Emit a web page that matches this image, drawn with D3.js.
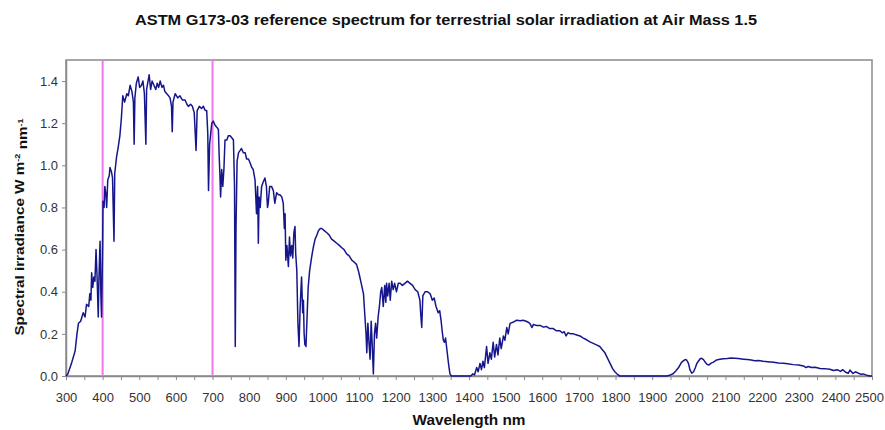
<!DOCTYPE html>
<html>
<head>
<meta charset="utf-8">
<script src="https://cdn.jsdelivr.net/npm/d3@7"></script>
<style>
  html, body { margin: 0; padding: 0; background: #fff; }
  svg { display: block; font-family: "Liberation Sans", Arial, sans-serif; }
</style>
</head>
<body>
<svg id="chart" width="885" height="430"></svg>
<script>
// ASTM G173-03 AM1.5 spectral irradiance (W m^-2 nm^-1) against wavelength (nm)
const wavelength = [
  280, 300, 305, 315, 325, 330, 334, 340, 347, 352, 356, 362, 365, 368, 370, 373, 376, 379, 382, 385,
  388, 390, 393, 395, 397, 400, 401, 404, 406, 409, 411, 414, 418, 420, 424, 427, 431, 433, 438, 442,
  447, 451, 455, 460, 466, 470, 475, 480, 484, 486, 488, 492, 497, 501, 506, 510, 514, 518, 520, 524,
  527, 531, 535, 540, 545, 549, 553, 557, 562, 566, 570, 575, 580, 584, 588, 590, 592, 598, 605, 611,
  618, 625, 630, 634, 640, 645, 650, 655, 658, 664, 670, 675, 680, 684, 687, 689, 692, 698, 702, 707,
  712, 716, 718, 720, 722, 725, 728, 731, 734, 739, 743, 748, 753, 757, 760, 762, 764, 767, 771, 775,
  779, 784, 789, 793, 798, 803, 807, 811, 816, 818, 820, 823, 825, 827, 830, 834, 838, 843, 847, 850,
  852, 856, 861, 866, 870, 875, 880, 884, 889, 893, 896, 898, 900, 903, 907, 910, 913, 916, 919, 922,
  925, 927, 930, 933, 936, 939, 941, 943, 946, 948, 950, 952, 955, 958, 961, 965, 971, 975, 980, 985,
  989, 994, 998, 1005, 1012, 1018, 1025, 1032, 1039, 1046, 1052, 1059, 1066, 1073, 1080, 1087, 1093, 1098, 1102, 1107,
  1112, 1116, 1119, 1121, 1124, 1127, 1130, 1133, 1136, 1139, 1142, 1145, 1148, 1152, 1156, 1159, 1162, 1166, 1170, 1173,
  1175, 1178, 1182, 1185, 1189, 1193, 1197, 1202, 1207, 1212, 1218, 1225, 1232, 1239, 1246, 1253, 1260, 1266, 1268, 1271,
  1274, 1280, 1287, 1294, 1300, 1305, 1310, 1316, 1320, 1324, 1327, 1330, 1333, 1336, 1340, 1344, 1348, 1352, 1405, 1410,
  1415, 1421, 1425, 1430, 1434, 1438, 1442, 1448, 1452, 1457, 1461, 1466, 1470, 1475, 1479, 1484, 1488, 1494, 1498, 1503,
  1507, 1512, 1520, 1530, 1540, 1548, 1556, 1562, 1566, 1572, 1576, 1584, 1594, 1603, 1612, 1620, 1630, 1638, 1648, 1655,
  1660, 1665, 1670, 1678, 1685, 1694, 1703, 1712, 1721, 1730, 1739, 1748, 1757, 1764, 1771, 1778, 1785, 1792, 1798, 1805,
  1812, 1940, 1950, 1958, 1965, 1972, 1980, 1985, 1990, 1994, 1999, 2003, 2008, 2013, 2018, 2022, 2026, 2031, 2035, 2040,
  2045, 2050, 2055, 2060, 2067, 2076, 2085, 2094, 2105, 2115, 2125, 2135, 2149, 2160, 2170, 2180, 2190, 2203, 2215, 2231,
  2245, 2258, 2270, 2285, 2300, 2313, 2320, 2326, 2335, 2345, 2358, 2370, 2385, 2395, 2405, 2414, 2420, 2428, 2435, 2440,
  2448, 2455, 2462, 2470, 2476, 2485, 2494, 2500
];
const irradiance = [
  0, 0, 0.01, 0.06, 0.12, 0.2, 0.25, 0.26, 0.30, 0.28, 0.34, 0.33, 0.39, 0.36, 0.49, 0.42, 0.47, 0.45, 0.60, 0.46,
  0.28, 0.47, 0.64, 0.40, 0.28, 0.62, 0.83, 0.80, 0.90, 0.86, 0.80, 0.93, 0.95, 0.99, 0.97, 0.94, 0.64, 0.96, 1.04, 1.08,
  1.14, 1.22, 1.33, 1.30, 1.34, 1.33, 1.38, 1.35, 1.30, 1.10, 1.32, 1.39, 1.42, 1.37, 1.38, 1.40, 1.34, 1.10, 1.36, 1.40,
  1.43, 1.36, 1.40, 1.38, 1.36, 1.39, 1.37, 1.40, 1.37, 1.38, 1.35, 1.34, 1.33, 1.32, 1.28, 1.16, 1.30, 1.34, 1.32, 1.33,
  1.31, 1.31, 1.29, 1.28, 1.29, 1.28, 1.25, 1.07, 1.26, 1.28, 1.27, 1.28, 1.26, 1.26, 1.15, 0.88, 1.10, 1.20, 1.21, 1.19,
  1.18, 1.17, 1.05, 0.96, 0.85, 0.98, 0.90, 0.98, 1.12, 1.12, 1.14, 1.14, 1.13, 1.12, 0.90, 0.14, 0.70, 1.02, 1.06, 1.07,
  1.08, 1.06, 1.06, 1.03, 1.03, 1.01, 0.99, 0.98, 0.93, 0.85, 0.77, 0.90, 0.63, 0.85, 0.80, 0.90, 0.92, 0.94, 0.90, 0.80,
  0.82, 0.90, 0.90, 0.88, 0.82, 0.87, 0.86, 0.86, 0.85, 0.82, 0.70, 0.77, 0.55, 0.62, 0.52, 0.66, 0.57, 0.62, 0.56, 0.68,
  0.71, 0.58, 0.50, 0.25, 0.14, 0.32, 0.40, 0.47, 0.30, 0.36, 0.20, 0.15, 0.14, 0.28, 0.42, 0.50, 0.57, 0.61, 0.65, 0.67,
  0.69, 0.70, 0.70, 0.69, 0.68, 0.67, 0.65, 0.64, 0.63, 0.62, 0.61, 0.60, 0.58, 0.57, 0.55, 0.54, 0.53, 0.50, 0.47, 0.43,
  0.39, 0.28, 0.20, 0.11, 0.25, 0.16, 0.08, 0.26, 0.14, 0.01, 0.20, 0.25, 0.18, 0.28, 0.34, 0.40, 0.42, 0.33, 0.43, 0.35,
  0.44, 0.38, 0.44, 0.36, 0.45, 0.41, 0.44, 0.40, 0.44, 0.44, 0.43, 0.44, 0.45, 0.44, 0.43, 0.41, 0.40, 0.36, 0.30, 0.23,
  0.38, 0.40, 0.40, 0.39, 0.36, 0.37, 0.33, 0.30, 0.31, 0.26, 0.21, 0.17, 0.16, 0.18, 0.12, 0.06, 0.01, 0, 0, 0.01,
  0.005, 0.04, 0.02, 0.06, 0.03, 0.07, 0.04, 0.14, 0.06, 0.11, 0.08, 0.16, 0.09, 0.15, 0.10, 0.18, 0.13, 0.19, 0.17, 0.23,
  0.20, 0.25, 0.255, 0.265, 0.262, 0.265, 0.26, 0.255, 0.25, 0.23, 0.245, 0.24, 0.24, 0.232, 0.235, 0.225, 0.225, 0.215, 0.215, 0.205,
  0.21, 0.19, 0.205, 0.20, 0.20, 0.195, 0.19, 0.18, 0.172, 0.162, 0.155, 0.148, 0.14, 0.125, 0.11, 0.085, 0.06, 0.035, 0.02, 0.008,
  0, 0, 0.005, 0.012, 0.025, 0.04, 0.065, 0.072, 0.078, 0.076, 0.06, 0.03, 0.013, 0.02, 0.04, 0.06, 0.07, 0.082, 0.084, 0.078,
  0.065, 0.055, 0.052, 0.06, 0.066, 0.076, 0.079, 0.082, 0.083, 0.085, 0.084, 0.083, 0.08, 0.078, 0.076, 0.072, 0.074, 0.07, 0.068, 0.065,
  0.062, 0.06, 0.058, 0.054, 0.052, 0.048, 0.04, 0.045, 0.04, 0.042, 0.036, 0.035, 0.032, 0.026, 0.03, 0.022, 0.03, 0.018, 0.013, 0.028,
  0.012, 0.02, 0.014, 0.008, 0.01, 0.004, 0, 0
];

// Visible band edges marked with vertical lines
const bandEdges = [400, 700];

const xTickValues = [300, 400, 500, 600, 700, 800, 900, 1000, 1100, 1200, 1300, 1400,
                     1500, 1600, 1700, 1800, 1900, 2000, 2100, 2200, 2300, 2400, 2500];
const yTickValues = [0.0, 0.2, 0.4, 0.6, 0.8, 1.0, 1.2, 1.4];

const titleText = "ASTM G173-03 reference spectrum for terrestrial solar irradiation at Air Mass 1.5";
const xTitle = "Wavelength nm";

const svg = d3.select("#chart");
const margin = { left: 66, right: 13, top: 60, bottom: 54 };
const W = 885, H = 430;

const x = d3.scaleLinear().domain([300, 2500]).range([margin.left, W - margin.right]);
const y = d3.scaleLinear().domain([0, 1.5]).range([H - margin.bottom, margin.top]);

const axisColor = "#8a8a8a";
const labelColor = "#333";

// Plot frame
svg.append("rect")
  .attr("x", x(300)).attr("y", y(1.5))
  .attr("width", x(2500) - x(300)).attr("height", y(0) - y(1.5))
  .attr("fill", "none").attr("stroke", axisColor).attr("stroke-width", 1.5);

// X axis: ticks every 50 nm, labels every 100 nm
const xMinor = d3.range(300, 2501, 50);
const xAxis = d3.axisBottom(x).tickValues(xMinor).tickSize(4).tickSizeOuter(0)
  .tickFormat(d => xTickValues.includes(d) ? d3.format("d")(d) : "");
const gx = svg.append("g").attr("transform", `translate(0,${y(0)})`).call(xAxis);
gx.select(".domain").attr("stroke", axisColor).attr("stroke-width", 1.5);
gx.selectAll(".tick line").attr("stroke", axisColor);
gx.selectAll(".tick text").attr("fill", labelColor).attr("font-size", 13)
  .attr("y", 26).attr("dy", 0);
// keep the last label inside the page edge
gx.selectAll(".tick text").filter(d => d === 2500).attr("x", -3);

// Y axis
const yAxis = d3.axisLeft(y).tickValues(yTickValues).tickSize(4).tickSizeOuter(0)
  .tickFormat(d3.format(".1f"));
const gy = svg.append("g").attr("transform", `translate(${x(300)},0)`).call(yAxis);
gy.select(".domain").attr("stroke", axisColor).attr("stroke-width", 1.5);
gy.selectAll(".tick line").attr("stroke", axisColor);
gy.selectAll(".tick text").attr("fill", labelColor).attr("font-size", 13).attr("x", -8);

// Band edge markers
svg.append("g").selectAll("line").data(bandEdges).join("line")
  .attr("x1", d => x(d)).attr("x2", d => x(d))
  .attr("y1", y(1.5)).attr("y2", y(0))
  .attr("stroke", "#ee77ee").attr("stroke-width", 2);

// Spectrum line
const pts = wavelength.map((w, i) => [w, irradiance[i]]).filter(p => p[0] >= 300);
const line = d3.line().x(d => x(d[0])).y(d => y(d[1]));
svg.append("path")
  .datum(pts)
  .attr("d", line)
  .attr("fill", "none")
  .attr("stroke", "#16168c")
  .attr("stroke-width", 1.5)
  .attr("stroke-linejoin", "round");

// Titles
svg.append("text")
  .attr("x", 446).attr("y", 25)
  .attr("text-anchor", "middle")
  .attr("font-size", 14).attr("font-weight", "bold").attr("fill", "#111")
  .attr("textLength", 622).attr("lengthAdjust", "spacingAndGlyphs")
  .text(titleText);

svg.append("text")
  .attr("x", 469).attr("y", 425)
  .attr("text-anchor", "middle")
  .attr("font-size", 14).attr("font-weight", "bold").attr("fill", "#111")
  .attr("textLength", 113).attr("lengthAdjust", "spacingAndGlyphs")
  .text(xTitle);

// Rotated y title, stretched along its length to the target span
const ytG = svg.append("g").attr("transform", `translate(24,227) rotate(-90)`);
const yt = ytG.append("text")
  .attr("text-anchor", "middle")
  .attr("font-size", 13.5).attr("font-weight", "bold").attr("fill", "#111");
yt.append("tspan").text("Spectral irradiance W m");
yt.append("tspan").attr("dy", "-0.5em").attr("font-size", 8).text("-2");
yt.append("tspan").attr("dy", "0.5em").text(" nm");
yt.append("tspan").attr("dy", "-0.5em").attr("font-size", 8).text("-1");
const ytLen = yt.node().getBBox().width;
yt.attr("transform", `scale(${218 / ytLen},1)`);
</script>
</body>
</html>
